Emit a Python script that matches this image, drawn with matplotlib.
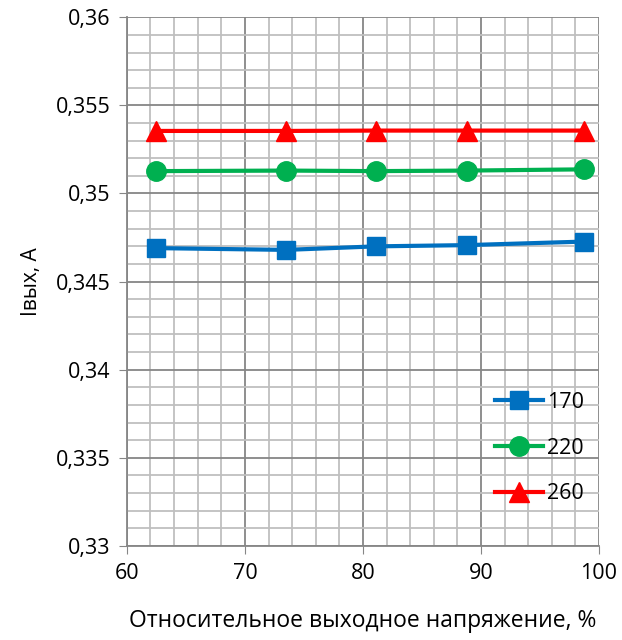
import matplotlib
matplotlib.use("Agg")
import matplotlib.pyplot as plt
from matplotlib.ticker import MultipleLocator, FuncFormatter

# data
x_vals = [62.5, 73.5, 81.1, 88.8, 98.7]
i_170 = [0.3469, 0.34680, 0.34700, 0.34707, 0.34727]
i_220 = [0.35127, 0.35130, 0.35127, 0.35130, 0.35137]
i_260 = [0.35355, 0.35355, 0.35357, 0.35357, 0.35357]
labels = ["170", "220", "260"]

plt.rcParams['font.family'] = ['Open Sans', 'DejaVu Sans']

fig = plt.figure(figsize=(6.22, 6.4), dpi=100)
ax = fig.add_axes([0.204, 0.147, 0.759, 0.826])

ax.plot(x_vals, i_170, color='#0070C0', lw=3, marker='s', ms=13, label=labels[0])
ax.plot(x_vals, i_220, color='#00B050', lw=3, marker='o', ms=14, label=labels[1])
ax.plot(x_vals, i_260, color='#FF0000', lw=3, marker='^', ms=14, label=labels[2])

ax.set_xlim(60, 100)
ax.set_ylim(0.33, 0.36)
ax.xaxis.set_major_locator(MultipleLocator(10))
ax.xaxis.set_minor_locator(MultipleLocator(2))
ax.yaxis.set_major_locator(MultipleLocator(0.005))
ax.yaxis.set_minor_locator(MultipleLocator(0.001))
ax.yaxis.set_major_formatter(FuncFormatter(lambda v, p: ('%g' % round(v, 4)).replace('.', ',')))

ax.grid(which='major', color='#868686', lw=1.3)
ax.grid(which='minor', color='#BFBFBF', lw=1.3)
ax.set_axisbelow(True)
for side in ['top', 'right']:
    ax.spines[side].set_visible(False)
for side in ['left', 'bottom']:
    ax.spines[side].set_color('#868686')
    ax.spines[side].set_linewidth(1.3)
ax.tick_params(which='major', length=6, color='#868686', labelsize=15.5, pad=6)
ax.tick_params(which='minor', length=0)

ax.set_xlabel('Относительное выходное напряжение, %', fontsize=16.5, labelpad=18)
ax.set_ylabel('Iвых, А', fontsize=15, labelpad=10)

leg = ax.legend(loc='lower right', bbox_to_anchor=(1.0, 0.05), frameon=False,
                fontsize=15.5, handlelength=2.2, handletextpad=0.2, labelspacing=1.15,
                borderaxespad=0.3)

fig.savefig('out.png', dpi=100)
